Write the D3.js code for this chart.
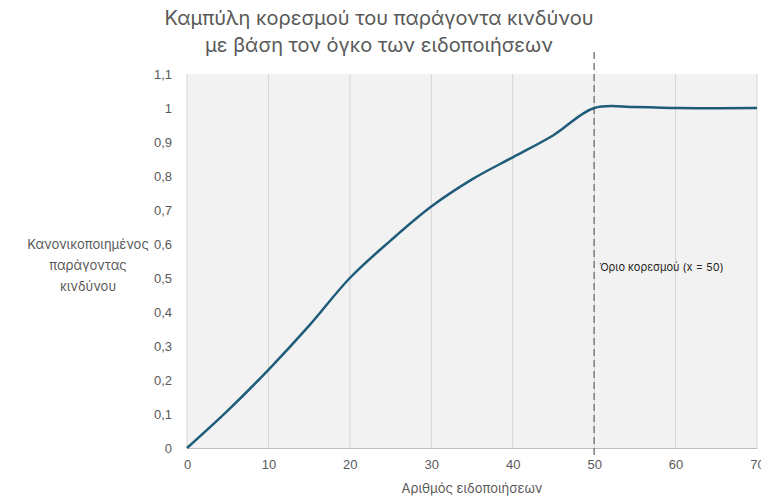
<!DOCTYPE html>
<html>
<head>
<meta charset="utf-8">
<title>Καμπύλη κορεσμού</title>
<script src="https://d3js.org/d3.v7.min.js"></script>
<style>
  body { margin: 0; background: #ffffff; }
  svg { display: block; font-family: Inter, "Open Sans", sans-serif; }
  .tick text { fill: #595959; font-size: 13px; }
</style>
</head>
<body>
<div id="chart"></div>
<script>
// data
const xValues = [0, 5, 10, 15, 20, 25, 30, 35, 40, 45, 50, 55, 60, 70];
const riskValues = [0, 0.11, 0.23, 0.36, 0.5, 0.61, 0.71, 0.79, 0.855, 0.92, 1.0, 1.003, 1.0, 1.0];
const xTicks = [0, 10, 20, 30, 40, 50, 60, 70];
const yTicks = [0, 0.1, 0.2, 0.3, 0.4, 0.5, 0.6, 0.7, 0.8, 0.9, 1, 1.1];
const saturation = 50;
const titleLines = ["Καμπύλη κορεσμού του παράγοντα κινδύνου", "με βάση τον όγκο των ειδοποιήσεων"];
const yTitleLines = ["Κανονικοποιημένος", "παράγοντας", "κινδύνου"];
const xTitle = "Αριθμός ειδοποιήσεων";
const noteText = "Όριο κορεσμού (x = 50)";

const W = 761, H = 499;
const margin = { top: 74, right: 4, bottom: 51, left: 187 },
      width = W - margin.left - margin.right,
      height = H - margin.top - margin.bottom;

const svg = d3.select("#chart").append("svg")
    .attr("width", W).attr("height", H);

const g = svg.append("g")
    .attr("transform", `translate(${margin.left},${margin.top})`);

const x = d3.scaleLinear().domain([0, 70]).range([0, width]);
const y = d3.scaleLinear().domain([0, 1.1]).range([height, 0]);

// plot background
g.append("rect")
    .attr("width", width).attr("height", height)
    .attr("fill", "#f2f2f2");

// vertical gridlines
g.selectAll("line.grid")
    .data(xTicks)
    .join("line")
    .attr("class", "grid")
    .attr("x1", d => x(d)).attr("x2", d => x(d))
    .attr("y1", 0).attr("y2", height)
    .attr("stroke", "#d4d4d4").attr("stroke-width", 1);

// x axis
const xAxis = g.append("g")
    .attr("transform", `translate(0,${height})`)
    .call(d3.axisBottom(x).tickValues(xTicks).tickSize(0).tickPadding(12));
xAxis.select(".domain").attr("stroke", "#bfbfbf");

// y axis
const fmt = d => d3.format(".1~f")(d).replace(".", ",");
const yAxis = g.append("g")
    .call(d3.axisLeft(y).tickValues(yTicks).tickFormat(fmt).tickSize(0).tickPadding(15));
yAxis.select(".domain").remove();

// saturation line
g.append("line")
    .attr("x1", x(saturation)).attr("x2", x(saturation))
    .attr("y1", -22).attr("y2", height + 7)
    .attr("stroke", "#7f7f7f").attr("stroke-width", 1.5)
    .attr("stroke-dasharray", "7,4");

// curve
const line = d3.line()
    .x((d, i) => x(xValues[i]))
    .y(d => y(d))
    .curve(d3.curveCatmullRom.alpha(0.5));

g.append("path")
    .datum(riskValues)
    .attr("d", line)
    .attr("fill", "none")
    .attr("stroke", "#1f5c7a")
    .attr("stroke-width", 2.5);

// note
g.append("text")
    .attr("x", x(saturation) + 5).attr("y", y(0.52))
    .attr("font-size", 11).attr("fill", "#262626")
    .text(noteText);

// title
svg.append("g").selectAll("text")
    .data(titleLines)
    .join("text")
    .attr("x", 379).attr("y", (d, i) => 25 + i * 27)
    .attr("text-anchor", "middle")
    .attr("font-size", 20).attr("fill", "#595959")
    .text(d => d);

// y title
svg.append("g").selectAll("text")
    .data(yTitleLines)
    .join("text")
    .attr("x", 88).attr("y", (d, i) => 249 + i * 21)
    .attr("text-anchor", "middle")
    .attr("font-size", 13).attr("fill", "#595959")
    .text(d => d);

// x title
svg.append("text")
    .attr("x", margin.left + width / 2).attr("y", 493)
    .attr("text-anchor", "middle")
    .attr("font-size", 13).attr("fill", "#595959")
    .text(xTitle);
</script>
</body>
</html>
